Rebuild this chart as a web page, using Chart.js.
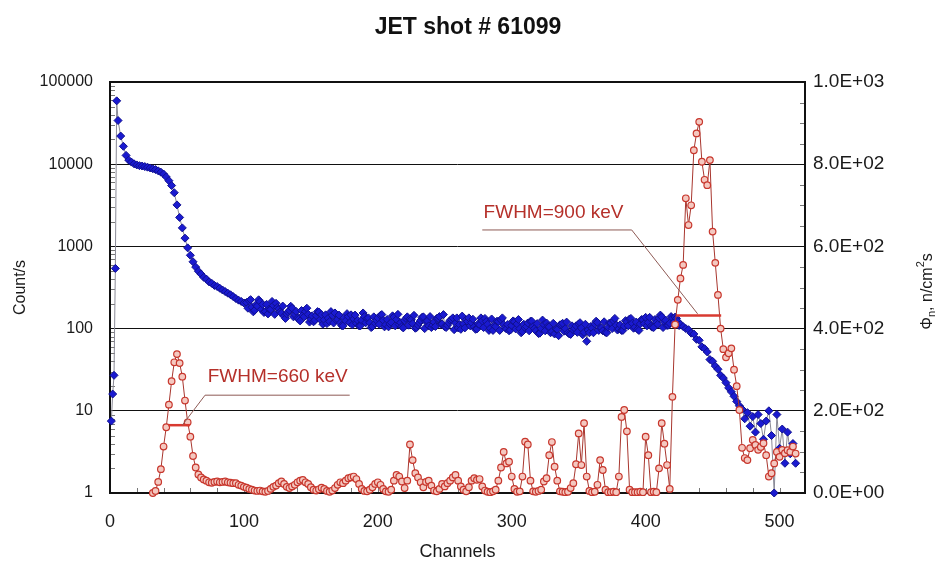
<!DOCTYPE html>
<html>
<head>
<meta charset="utf-8">
<title>JET shot # 61099</title>
<script src="https://cdn.jsdelivr.net/npm/chart.js@4.4.1/dist/chart.umd.min.js"></script>
<style>
  html, body { margin: 0; padding: 0; background: #fff; }
  #wrap { width: 936px; height: 563px; }
</style>
</head>
<body>
<div id="wrap"><canvas id="grafico" width="936" height="563"></canvas></div>
<script>
// axis ticks
const channelTicks = [0, 100, 200, 300, 400, 500];
const countTicks = [1, 10, 100, 1000, 10000, 100000];
const fluxTicks = [0, 200, 400, 600, 800, 1000];
const channelMax = 519;
const channelStep = 2; // the spectra below are read every 2nd channel

// blue spectrum, Count/s (left, log axis)
const blueHeadCh = [1, 2, 3, 4, 5];
const blueHeadCounts = [7.5, 16, 27, 540, 59000];
const blueStartCh = 6;
const blueCounts = [
  34000, 22000, 16500, 12800, 11200, 10600, 10100, 9800, 9600, 9500,   // 6..24
  9350, 9200, 9000, 8800, 8600, 8300, 8000, 7600, 7000, 6300,          // 26..44
  5500, 4500, 3200, 2250, 1680, 1260, 960, 780, 650, 560,              // 46..64
  500, 460, 420, 400, 370, 355, 335, 325, 310, 295,                    // 66..84
  282, 270, 258, 245, 232, 222, 214, 205, 208, 218,                    // 86..104
  182, 167, 188, 213, 197, 162, 151, 171, 191, 203,                    // 106..124
  173, 154, 141, 151, 167, 177, 149, 134, 124, 146,                    // 126..144
  161, 149, 130, 121, 144, 159, 147, 128, 115, 122,                    // 146..164
  145, 155, 130, 117, 108, 124, 140, 147, 131, 116,                    // 166..184
  108, 126, 140, 133, 118, 106, 116, 135, 145, 126,                    // 186..204
  112, 105, 119, 138, 129, 112, 106, 125, 139, 131,                    // 206..224
  115, 101, 110, 126, 139, 122, 108, 103, 120, 133,                    // 226..244
  140, 114, 105, 110, 126, 135, 117, 102, 98, 114,                     // 246..264
  128, 135, 118, 105, 99, 111, 124, 133, 113, 101,                     // 266..284
  95, 106, 122, 128, 112, 99, 94, 109, 121, 114,                       // 286..304
  100, 92, 102, 117, 123, 106, 94, 87, 100, 112,                       // 306..324
  117, 105, 92, 86, 98, 111, 116, 100, 89, 85,                         // 326..344
  96, 108, 114, 102, 90, 70, 89, 101, 114, 119,                        // 346..364
  103, 94, 90, 104, 117, 124, 110, 99, 95, 107,                        // 366..384
  121, 131, 116, 104, 98, 114, 128, 137, 119, 107,                     // 386..404
  103, 119, 134, 139, 121, 109, 116, 134, 138, 122,                    // 406..424
  112, 106, 100, 97, 88, 86, 74, 72, 60, 57,                           // 426..444
  52, 42, 40, 35, 32, 27, 25, 22, 19, 17,                              // 446..464
  15, 13, 11.5, 10.5, 8, 9.5, 6.5, 8.5, 5.5, 9,                        // 466..484
  7, 4.5, 7.5, 10, 5, 1, 9, 3.5, 6, 2.3,                               // 486..504
  5.5, 3, 4, 2.3                                                       // 506..512
];
// odd channels of the noisy flat part, read between the even ones
const blueOddStartCh = 103;
const blueOddCounts = [
  177, 225, 160, 195, 224, 171, 157, 197, 173, 214,   // 103..121
  149, 181, 160, 188, 133, 160, 187, 139, 162, 131,   // 123..141
  166, 139, 177, 120, 143, 126, 161, 129, 113, 147,   // 143..161
  134, 161, 117, 127, 146, 109, 135, 152, 118, 111,   // 163..181
  146, 126, 108, 155, 118, 135, 103, 139, 126, 113,   // 183..201
  148, 105, 129, 114, 143, 108, 149, 118, 102, 133,   // 203..221
  110, 128, 145, 103, 118, 137, 100, 124, 140, 110,   // 223..241
  106, 133, 113, 148, 103, 118, 129, 97, 135, 112,    // 243..261
  142, 102, 122, 108, 130, 98, 114, 135, 103, 122,    // 263..281
  95, 131, 109, 123, 95, 135, 103, 112, 96, 124,      // 283..301
  99, 129, 89, 113, 106, 94, 123, 100, 115, 88,       // 303..321
  127, 94, 106, 89, 116, 99, 82, 112, 93, 120,        // 323..341
  86, 108, 101, 90, 118, 84, 113, 96, 106, 89,        // 343..361
  123, 95, 102, 121, 89, 117, 100, 133, 96, 111,      // 363..381
  95, 125, 108, 133, 101, 120, 95, 129, 115, 108,     // 383..401
  137, 104, 129, 113, 146, 103, 126, 110, 140, 120,   // 403..421
  133, 109                                            // 423..425
];

// red spectrum, flux (right axis)
const redStartCh = 32;
const redFlux = [
  0, 5, 27, 58, 113, 160, 215, 272, 318, 338,          // 32..50
  316, 283, 225, 172, 137, 90, 62, 45, 38, 33,         // 52..70
  30, 26, 25, 27, 28, 26, 27, 28, 26, 25,              // 72..90
  24, 24, 20, 18, 15, 13, 10, 8, 6, 5,                 // 92..110
  6, 4, 3, 5, 10, 15, 18, 24, 28, 22,                  // 112..130
  15, 12, 16, 20, 26, 30, 32, 26, 22, 14,              // 132..150
  8, 6, 9, 13, 10, 5, 3, 6, 12, 20,                    // 152..170
  26, 24, 30, 36, 38, 40, 34, 22, 10, 5,               // 172..190
  4, 8, 14, 22, 26, 20, 10, 4, 3, 8,                   // 192..210
  30, 44, 40, 28, 12, 30, 118, 80, 48, 38,             // 212..230
  26, 14, 27, 30, 18, 6, 4, 10, 22, 16,                // 232..250
  24, 30, 38, 44, 30, 16, 8, 4, 14, 30,                // 252..270
  36, 32, 34, 16, 6, 3, 2, 4, 8, 30,                   // 272..290
  62, 100, 72, 76, 40, 10, 3, 4, 40, 125,              // 292..310
  118, 30, 4, 3, 5, 8, 28, 36, 92, 124,                // 312..330
  64, 30, 4, 3, 2, 3, 12, 24, 70, 145,                 // 332..350
  68, 170, 40, 5, 2, 3, 20, 80, 56, 8,                 // 352..370
  2, 2, 3, 2, 40, 185, 202, 150, 8, 2,                 // 372..390
  2, 2, 3, 2, 137, 92, 2, 3, 2, 60,                    // 392..410
  170, 120, 68, 10, 234, 410, 470, 522, 555, 717,      // 412..430
  652, 700, 834, 875, 903, 806, 762, 749, 810, 636,    // 432..450
  560, 482, 400, 350, 330, 340, 352, 300, 260, 202,    // 452..470
  110, 85, 80, 109, 129, 117, 105, 112, 121, 92,       // 472..490
  40, 48, 72, 100, 88, 105, 97, 104, 100, 113,         // 492..510
  96                                                   // 512
];

// FWHM bars and their leader lines (channel, flux)
const fwhm660Bar = [[43.5, 165], [59.7, 165]];
const fwhm660Leader = [[54, 165], [71, 238], [179, 238]];
const fwhm900Bar = [[422.8, 432], [456.4, 432]];
const fwhm900Leader = [[278, 640], [389.6, 640], [438.8, 436]];
const fwhmLabels = [
  { text: 'FWHM=660 keV', ch: 73, flux: 282 },
  { text: 'FWHM=900 keV', ch: 279, flux: 683 }
];

Chart.defaults.font.family = '"Liberation Sans", Arial, sans-serif';
Chart.defaults.color = '#1a1a1a';

function toPoints(pairs) {
  return pairs.map(p => ({ x: p[0], y: p[1] }));
}

function bluePoints() {
  const pts = blueHeadCh.map((c, i) => ({ x: c, y: blueHeadCounts[i] }));
  blueCounts.forEach((v, i) => pts.push({ x: blueStartCh + i * channelStep, y: v }));
  blueOddCounts.forEach((v, i) => pts.push({ x: blueOddStartCh + i * channelStep, y: v }));
  pts.sort((a, b) => a.x - b.x);
  return pts;
}

function redPoints() {
  return redFlux.map((v, i) => ({ x: redStartCh + i * channelStep, y: v }));
}

function sciLabel(v) {
  if (v === 0) return '0.0E+00';
  const e = Math.floor(Math.log10(v) + 1e-9);
  const m = v / Math.pow(10, e);
  return m.toFixed(1) + 'E+' + String(e).padStart(2, '0');
}

// frame + small inside ticks, drawn under the data
const framePlugin = {
  id: 'frame',
  beforeDatasetsDraw(chart) {
    const { ctx, chartArea: a, scales } = chart;
    ctx.save();
    ctx.strokeStyle = '#777';
    ctx.lineWidth = 1;
    ctx.beginPath();
    countTicks.slice(0, -1).forEach(dec => {
      for (let k = 2; k <= 9; k++) {
        const y = Math.round(scales.y.getPixelForValue(dec * k)) + 0.5;
        ctx.moveTo(a.left, y); ctx.lineTo(a.left + 5, y);
      }
    });
    for (let f = 50; f < 1000; f += 50) {
      if (f % 200 === 0) continue;
      const y = Math.round(scales.y2.getPixelForValue(f)) + 0.5;
      ctx.moveTo(a.right, y); ctx.lineTo(a.right - 5, y);
    }
    for (let c = 20; c < channelMax; c += 20) {
      const x = Math.round(scales.x.getPixelForValue(c)) + 0.5;
      ctx.moveTo(x, a.bottom); ctx.lineTo(x, a.bottom - 5);
    }
    ctx.stroke();
    ctx.lineWidth = 2;
    ctx.strokeStyle = '#111';
    ctx.strokeRect(a.left, a.top, a.right - a.left, a.bottom - a.top);
    ctx.restore();
  }
};

// FWHM texts and the right axis title (reads bottom to top)
const textPlugin = {
  id: 'texts',
  afterDatasetsDraw(chart) {
    const { ctx, scales } = chart;
    ctx.save();
    ctx.font = '19px "Liberation Sans", Arial, sans-serif';
    ctx.fillStyle = '#b5302a';
    ctx.textAlign = 'left';
    ctx.textBaseline = 'middle';
    fwhmLabels.forEach(l => {
      ctx.fillText(l.text, scales.x.getPixelForValue(l.ch), scales.y2.getPixelForValue(l.flux));
    });

    const big = '16px "Liberation Sans", Arial, sans-serif';
    const small = '11px "Liberation Sans", Arial, sans-serif';
    const parts = [
      { t: '\u03A6', f: big, dy: 0 },
      { t: 'n', f: small, dy: 4 },
      { t: ', n/cm', f: big, dy: 0 },
      { t: '2', f: small, dy: -7 },
      { t: 's', f: big, dy: 0 }
    ];
    let total = 0;
    parts.forEach(p => { ctx.font = p.f; p.w = ctx.measureText(p.t).width; total += p.w; });
    ctx.translate(928, (chart.chartArea.top + chart.chartArea.bottom) / 2 + 4);
    ctx.rotate(-Math.PI / 2);
    ctx.fillStyle = '#1a1a1a';
    ctx.textBaseline = 'middle';
    let x = -total / 2;
    parts.forEach(p => {
      ctx.font = p.f;
      ctx.fillText(p.t, x, p.dy);
      x += p.w;
    });
    ctx.restore();
  }
};

const lineStyle = (pairs, color, width) => ({
  type: 'line',
  data: toPoints(pairs),
  yAxisID: 'y2',
  borderColor: color,
  borderWidth: width,
  pointRadius: 0,
  fill: false,
  order: -1,
  clip: false
});

const grafico = new Chart(document.getElementById('grafico').getContext('2d'), {
  type: 'line',
  data: {
    datasets: [
      {
        label: 'Flux',
        data: redPoints(),
        yAxisID: 'y2',
        borderColor: '#a8362e',
        borderWidth: 1,
        pointStyle: 'circle',
        pointRadius: 3.3,
        pointBorderColor: '#c8372d',
        pointBackgroundColor: '#f4c8c0',
        pointBorderWidth: 1.2,
        order: 0,
        clip: false
      },
      {
        label: 'Count/s',
        data: bluePoints(),
        yAxisID: 'y',
        borderColor: '#8a8a96',
        borderWidth: 1,
        pointStyle: 'rectRot',
        pointRadius: 4,
        pointBorderColor: '#101090',
        pointBackgroundColor: '#1a1ad0',
        pointBorderWidth: 1,
        order: 1,
        clip: false
      },
      lineStyle(fwhm660Leader, '#8e5a55', 1),
      lineStyle(fwhm900Leader, '#8e5a55', 1),
      lineStyle(fwhm660Bar, '#d83a30', 2.5),
      lineStyle(fwhm900Bar, '#d83a30', 2.5)
    ]
  },
  options: {
    responsive: false,
    animation: false,
    devicePixelRatio: 1,
    layout: { padding: 0 },
    plugins: {
      legend: { display: false },
      tooltip: { enabled: false },
      title: {
        display: true,
        text: 'JET shot # 61099',
        font: { size: 23, weight: 'bold' },
        color: '#111',
        padding: { top: 14, bottom: 40.4 }
      }
    },
    scales: {
      x: {
        type: 'linear',
        min: 0,
        max: channelMax,
        afterBuildTicks: s => { s.ticks = channelTicks.map(v => ({ value: v })); },
        afterFit: s => { s.height = 70; },
        ticks: { font: { size: 18 }, padding: 18, maxRotation: 0 },
        grid: { display: false, drawTicks: false },
        border: { display: false },
        title: { display: true, text: 'Channels', font: { size: 18 }, padding: { top: 0, bottom: 0 } }
      },
      y: {
        type: 'logarithmic',
        position: 'left',
        min: 1,
        max: 100000,
        afterBuildTicks: s => { s.ticks = countTicks.map(v => ({ value: v })); },
        afterFit: s => { s.width = 110; },
        ticks: { font: { size: 16 }, padding: 17, callback: v => String(v) },
        grid: { color: '#111', lineWidth: 1, drawTicks: false },
        border: { display: false },
        title: { display: true, text: 'Count/s', font: { size: 16 }, padding: { top: 11, bottom: 0 } }
      },
      y2: {
        type: 'linear',
        position: 'right',
        min: 0,
        max: 1000,
        afterBuildTicks: s => { s.ticks = fluxTicks.map(v => ({ value: v })); },
        afterFit: s => { s.width = 131; },
        ticks: { font: { size: 19 }, padding: 8, callback: v => sciLabel(v) },
        grid: { display: false, drawTicks: false },
        border: { display: false }
      }
    }
  },
  plugins: [framePlugin, textPlugin]
});
</script>
</body>
</html>
